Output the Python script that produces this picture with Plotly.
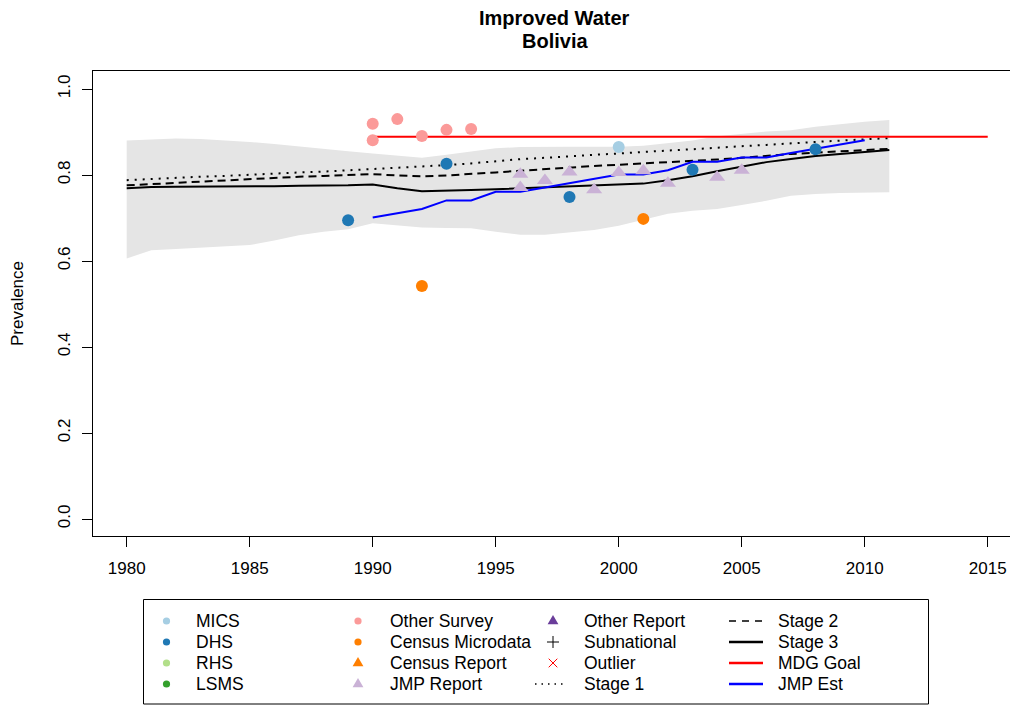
import plotly.graph_objects as go

# ---------------- data ----------------
band_years = list(range(1980, 2012))
band_upper = [0.880, 0.883, 0.885, 0.884, 0.881, 0.877, 0.872, 0.866, 0.860, 0.855,
              0.850, 0.845, 0.840, 0.847, 0.855, 0.862, 0.865, 0.866, 0.866, 0.866,
              0.866, 0.868, 0.874, 0.880, 0.890, 0.896, 0.901, 0.904, 0.912, 0.918,
              0.924, 0.928]
band_lower = [0.606, 0.625, 0.628, 0.631, 0.634, 0.637, 0.648, 0.660, 0.668, 0.674,
              0.688, 0.683, 0.678, 0.677, 0.676, 0.668, 0.661, 0.661, 0.666, 0.672,
              0.682, 0.696, 0.710, 0.717, 0.721, 0.730, 0.740, 0.752, 0.756, 0.758,
              0.759, 0.760]
stage1 = [0.788, 0.791, 0.793, 0.796, 0.798, 0.801, 0.803, 0.806, 0.808, 0.811,
          0.813, 0.816, 0.819, 0.823, 0.827, 0.832, 0.837, 0.840, 0.844, 0.847,
          0.850, 0.854, 0.857, 0.860, 0.864, 0.867, 0.870, 0.874, 0.877, 0.880,
          0.883, 0.886]
stage2 = [0.776, 0.779, 0.782, 0.785, 0.788, 0.791, 0.794, 0.796, 0.798, 0.800,
          0.802, 0.799, 0.797, 0.799, 0.802, 0.806, 0.810, 0.814, 0.818, 0.821,
          0.824, 0.827, 0.829, 0.832, 0.836, 0.840, 0.845, 0.849, 0.852, 0.855,
          0.858, 0.861]
stage3 = [0.769, 0.772, 0.773, 0.773, 0.774, 0.774, 0.774, 0.775, 0.775, 0.776,
          0.778, 0.769, 0.762, 0.763, 0.765, 0.767, 0.769, 0.771, 0.773, 0.775,
          0.777, 0.780, 0.788, 0.797, 0.809, 0.820, 0.830, 0.837, 0.844, 0.849,
          0.854, 0.858]
jmp_years = list(range(1990, 2011))
jmp_est = [0.701, 0.711, 0.721, 0.741, 0.741, 0.761, 0.761, 0.771, 0.781, 0.791,
           0.801, 0.801, 0.811, 0.831, 0.831, 0.841, 0.841, 0.851, 0.861, 0.871,
           0.881]
mdg_years = [1990, 2015]
mdg_goal = [0.889, 0.889]

mics_x = [2000]
mics_y = [0.865]
dhs_x = [1989, 1993, 1998, 2003, 2008]
dhs_y = [0.695, 0.826, 0.749, 0.812, 0.860]
other_survey_x = [1990, 1990, 1991, 1992, 1993, 1994]
other_survey_y = [0.919, 0.881, 0.930, 0.891, 0.905, 0.907]
census_micro_x = [1992, 2001]
census_micro_y = [0.542, 0.698]
jmp_report_x = [1996, 1996, 1997, 1998, 1999, 2000, 2001, 2002, 2004, 2005]
jmp_report_y = [0.802, 0.771, 0.787, 0.807, 0.766, 0.806, 0.810, 0.781, 0.795, 0.811]

x_ticks = [1980, 1985, 1990, 1995, 2000, 2005, 2010, 2015]
y_ticks = [0.0, 0.2, 0.4, 0.6, 0.8, 1.0]
y_tick_labels = ["0.0", "0.2", "0.4", "0.6", "0.8", "1.0"]

title_lines = ["Improved Water", "Bolivia"]
y_title = "Prevalence"

legend_items = [
    # (label, kind, colour, column, row)
    ("MICS", "circle", "#A6CEE3", 0, 0),
    ("DHS", "circle", "#1F78B4", 0, 1),
    ("RHS", "circle", "#B2DF8A", 0, 2),
    ("LSMS", "circle", "#33A02C", 0, 3),
    ("Other Survey", "circle", "#FB9A99", 1, 0),
    ("Census Microdata", "circle", "#FF7F00", 1, 1),
    ("Census Report", "triangle", "#FF7F00", 1, 2),
    ("JMP Report", "triangle", "#CAB2D6", 1, 3),
    ("Other Report", "triangle", "#6A3D9A", 2, 0),
    ("Subnational", "plus", "#000000", 2, 1),
    ("Outlier", "cross", "#FF0000", 2, 2),
    ("Stage 1", "dot", "#000000", 2, 3),
    ("Stage 2", "dash", "#000000", 3, 0),
    ("Stage 3", "solid", "#000000", 3, 1),
    ("MDG Goal", "solid", "#FF0000", 3, 2),
    ("JMP Est", "solid", "#0000FF", 3, 3),
]

# ---------------- layout geometry ----------------
# the page body has an 8px margin, so the figure is laid out 8px up/left
OFF = 8
W, H = 1018 - OFF, 706 - OFF
L, T = 93 - OFF, 71 - OFF
R = W - (1017 - OFF)
B = H - (536 - OFF)
PW = W - L - R
PH = H - T - B
FONT = "Liberation Sans, Arial, Helvetica, sans-serif"


def px(x):
    """screen x (page pixels) -> paper x"""
    return (x - OFF - L) / PW


def py(y):
    """screen y (page pixels) -> paper y"""
    return (H - B - (y - OFF)) / PH


fig = go.Figure()

# uncertainty band
fig.add_trace(go.Scatter(x=band_years, y=band_lower, mode="lines",
                         line=dict(width=0, color="#E5E5E5"),
                         showlegend=False, hoverinfo="skip"))
fig.add_trace(go.Scatter(x=band_years, y=band_upper, mode="lines", fill="tonexty",
                         fillcolor="#E5E5E5", line=dict(width=0, color="#E5E5E5"),
                         showlegend=False, hoverinfo="skip"))

# model lines
fig.add_trace(go.Scatter(x=band_years, y=stage1, mode="lines", name="Stage 1",
                         line=dict(color="black", width=2, dash="2px,6px"), showlegend=False))
fig.add_trace(go.Scatter(x=band_years, y=stage2, mode="lines", name="Stage 2",
                         line=dict(color="black", width=2, dash="8px,5px"), showlegend=False))
fig.add_trace(go.Scatter(x=band_years, y=stage3, mode="lines", name="Stage 3",
                         line=dict(color="black", width=2), showlegend=False))
fig.add_trace(go.Scatter(x=mdg_years, y=mdg_goal, mode="lines", name="MDG Goal",
                         line=dict(color="#FF0000", width=2), showlegend=False))
fig.add_trace(go.Scatter(x=jmp_years, y=jmp_est, mode="lines", name="JMP Est",
                         line=dict(color="#0000FF", width=2), showlegend=False))


# data points
def pts(x, y, name, color, symbol="circle", size=12):
    fig.add_trace(go.Scatter(x=x, y=y, mode="markers", name=name, showlegend=False,
                             marker=dict(color=color, size=size, symbol=symbol,
                                         line=dict(width=0))))


pts(other_survey_x, other_survey_y, "Other Survey", "#FB9A99")
pts(dhs_x, dhs_y, "DHS", "#1F78B4")
pts(mics_x, mics_y, "MICS", "#A6CEE3")
pts(census_micro_x, census_micro_y, "Census Microdata", "#FF7F00")
pts(jmp_report_x, jmp_report_y, "JMP Report", "#CAB2D6", symbol="triangle-up", size=14)

# ---------------- hand-made legend (R style, column major) ----------------
shapes = []
annotations = []
shapes.append(dict(type="rect", xref="paper", yref="paper",
                   x0=px(143.5), x1=px(928.5), y0=py(704), y1=py(599.5),
                   line=dict(color="black", width=1), fillcolor="rgba(0,0,0,0)"))
sym_x = [166.5, 358, 553, 746]
txt_x = [194, 388, 582, 776]
row_y = [621, 642, 663, 684]
for label, kind, col, c, r in legend_items:
    cx, cy = sym_x[c], row_y[r]
    if kind == "dot":
        cx = 550
    if kind == "circle":
        rr = 3.6
        shapes.append(dict(type="circle", xref="paper", yref="paper",
                           x0=px(cx - rr), x1=px(cx + rr), y0=py(cy + rr), y1=py(cy - rr),
                           fillcolor=col, line=dict(width=0)))
    elif kind == "triangle":
        path = "M {:.5f} {:.5f} L {:.5f} {:.5f} L {:.5f} {:.5f} Z".format(
            px(cx), py(cy - 6), px(cx + 5.4), py(cy + 3.2), px(cx - 5.4), py(cy + 3.2))
        shapes.append(dict(type="path", xref="paper", yref="paper", path=path,
                           fillcolor=col, line=dict(width=0)))
    elif kind == "plus":
        path = "M {:.5f} {:.5f} L {:.5f} {:.5f} M {:.5f} {:.5f} L {:.5f} {:.5f}".format(
            px(cx - 6), py(cy), px(cx + 6), py(cy), px(cx), py(cy - 6), px(cx), py(cy + 6))
        shapes.append(dict(type="path", xref="paper", yref="paper", path=path,
                           line=dict(color=col, width=1)))
    elif kind == "cross":
        path = "M {:.5f} {:.5f} L {:.5f} {:.5f} M {:.5f} {:.5f} L {:.5f} {:.5f}".format(
            px(cx - 4.3), py(cy - 4.3), px(cx + 4.3), py(cy + 4.3),
            px(cx - 4.3), py(cy + 4.3), px(cx + 4.3), py(cy - 4.3))
        shapes.append(dict(type="path", xref="paper", yref="paper", path=path,
                           line=dict(color=col, width=1)))
    else:
        dash = {"dot": "1.5px,5px", "dash": "7px,6px", "solid": "solid"}[kind]
        half = 15 if kind == "dot" else 17
        shapes.append(dict(type="line", xref="paper", yref="paper",
                           x0=px(cx - half), x1=px(cx + half), y0=py(cy), y1=py(cy),
                           line=dict(color=col, width=2.5 if kind == "solid" else 1.5,
                                     dash=dash)))
    annotations.append(dict(xref="paper", yref="paper", x=px(txt_x[c]), y=py(cy),
                            xanchor="left", yanchor="middle", showarrow=False,
                            text=label, font=dict(family=FONT, size=17.5, color="black")))

# two-line bold title
for text, ty in zip(title_lines, [17.5, 40.8]):
    annotations.append(dict(xref="paper", yref="paper", x=px(554.5), y=py(ty),
                            xanchor="center", yanchor="middle", showarrow=False,
                            text="<b>" + text + "</b>",
                            font=dict(family=FONT, size=20, color="black")))

fig.update_layout(
    width=W, height=H,
    margin=dict(l=L, r=R, t=T, b=B, autoexpand=False),
    paper_bgcolor="white", plot_bgcolor="white",
    font=dict(family=FONT, size=17, color="black"),
    showlegend=False,
    xaxis=dict(range=[1978.63, 2016.19], tickvals=x_ticks, ticks="outside",
               ticklen=10, tickwidth=1, tickcolor="black", showline=True,
               linecolor="black", linewidth=1, mirror=True, showgrid=False,
               zeroline=False, tickfont=dict(size=17), ticklabelstandoff=7),
    yaxis=dict(range=[-0.0395, 1.0419], tickvals=y_ticks, ticktext=y_tick_labels,
               tickangle=-90, ticks="outside", ticklen=10, tickwidth=1,
               tickcolor="black", showline=True, linecolor="black", linewidth=1,
               mirror=True, showgrid=False, zeroline=False, tickfont=dict(size=17),
               ticklabelstandoff=5,
               title=dict(text=y_title, font=dict(size=17), standoff=27)),
    shapes=shapes, annotations=annotations,
)

fig.write_html("out.html")
